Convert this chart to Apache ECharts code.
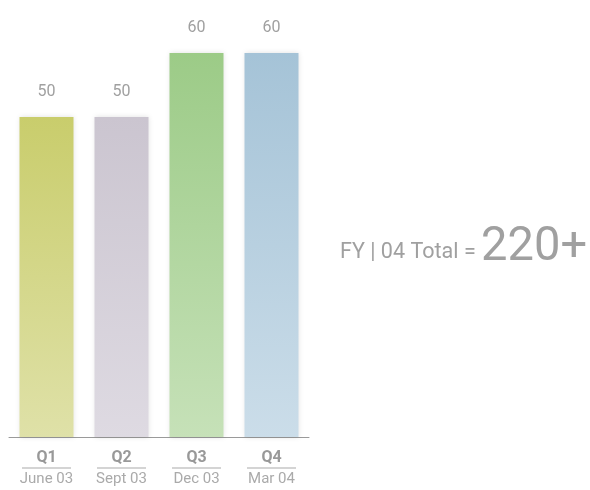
<!DOCTYPE html>
<html><head><meta charset="utf-8">
<script src="https://cdn.jsdelivr.net/npm/echarts@6/dist/echarts.min.js"></script>
<style>html,body{margin:0;padding:0;background:#fff}#c{width:590px;height:490px}</style>
</head><body><div id="c"></div>
<script>
const quarters = ['Q1','Q2','Q3','Q4'];
const periods = ['June 03','Sept 03','Dec 03','Mar 04'];
const values = [50, 50, 60, 60];
const topColors = ['#c9cd6c','#cbc5d0','#9ccb87','#a5c3d7'];
const bottomColors = ['#dfe1a8','#dedae2','#c6e1b8','#cbdde9'];
const totalLabel = 'FY | 04 Total = ';
const totalValue = '220+';
const FONT = 'Roboto, sans-serif';

const chart = echarts.init(document.getElementById('c'));
chart.setOption({
  animation:false,
  grid:{left:9,right:281,top:53,bottom:53},
  xAxis:{type:'category',data:quarters.map((q,i)=>q+'|'+periods[i]),
    axisLine:{lineStyle:{color:'#9a9a9a',width:1}},axisTick:{show:false},
    axisLabel:{interval:0,margin:11,formatter:v=>{const p=v.split('|');return '{q|'+p[0]+'}\n{l|}\n{d|'+p[1]+'}';},
      rich:{q:{fontFamily:FONT,fontWeight:'bold',fontSize:16,color:'#999',lineHeight:19,align:'center'},
        l:{width:49,height:1,backgroundColor:'#aaa',lineHeight:2},
        d:{fontFamily:FONT,fontSize:15,color:'#aaa',lineHeight:19,padding:[2,0,0,0],align:'center'}}}},
  yAxis:{type:'value',min:0,max:60,show:false,splitLine:{show:false}},
  series:[{type:'bar',barWidth:54,
    data:values.map((v,i)=>({value:v,itemStyle:{
      color:new echarts.graphic.LinearGradient(0,0,0,1,[{offset:0,color:topColors[i]},{offset:1,color:bottomColors[i]}]),
      shadowBlur:5,shadowColor:'rgba(0,0,0,0.12)'}})),
    label:{show:true,position:'top',distance:17,fontFamily:FONT,fontSize:16,color:'#a0a0a0'}}],
  graphic:[{type:'text',x:340,y:224,scaleX:0.98,style:{
    text:'{a|'+totalLabel+'}{b|'+totalValue+'}',fill:'#a0a0a0',
    rich:{a:{fontFamily:FONT,fontSize:22,fill:'#a0a0a0',verticalAlign:'bottom',padding:[0,0,9,0]},
      b:{fontFamily:FONT,fontSize:48,fill:'#a0a0a0',verticalAlign:'bottom'}}}}]
});
</script></body></html>
